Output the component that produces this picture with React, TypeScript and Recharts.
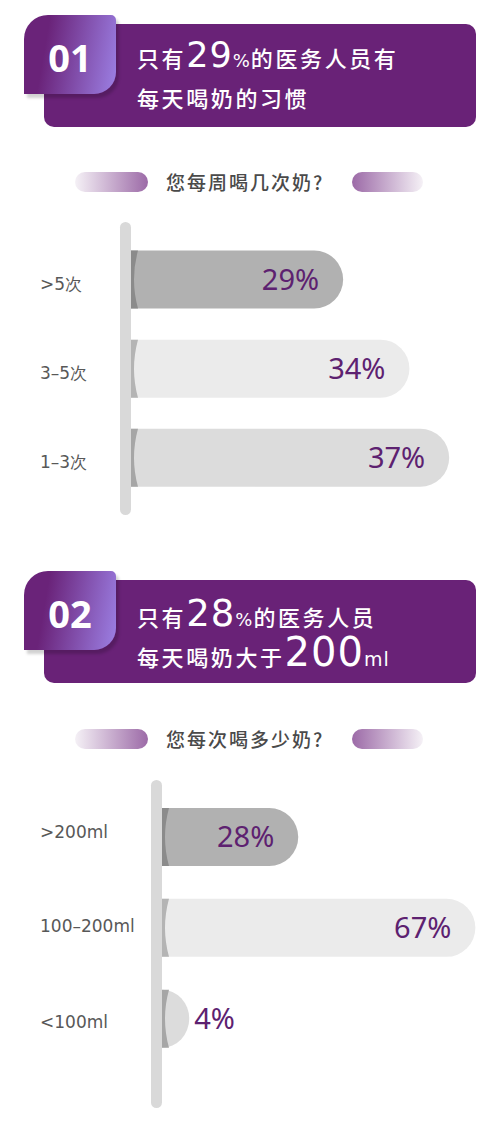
import React from 'react'
import { BarChart, Bar, XAxis, YAxis, LabelList } from 'recharts'

// section 1: how many times a week
const freqCategories = ['>5次', '3–5次', '1–3次']
const freqValues = [29, 34, 37]

// section 2: how much per time
const amountCategories = ['>200ml', '100–200ml', '<100ml']
const amountValues = [28, 67, 4]

const barFills = ['#b1b1b1', '#ebebeb', '#dcdcdc']
const edgeFills = ['#8b8b8b', '#b4b4b4', '#a6a6a6']

const PURPLE = '#692277'
const LABEL_PURPLE = '#5d2170'
const CJK = '"Noto Sans CJK SC", "Noto Sans", sans-serif'
const LATIN = '"Noto Sans", "Noto Sans CJK SC", sans-serif'
const WIDE = '"DejaVu Sans", "Noto Sans", sans-serif'

const freqData = freqCategories.map((name, i) => ({ name, value: freqValues[i] }))
const amountData = amountCategories.map((name, i) => ({ name, value: amountValues[i] }))

const makeShape = (plotLeft: number) => (props: any) => {
  const { x, y, width, height, index } = props
  const right = x + width
  const w = Math.max(right - plotLeft, 1)
  const ry = height / 2
  const rx = Math.min(ry, w)
  const body = `M${plotLeft},${y} H${right - rx} A${rx},${ry} 0 0 1 ${right - rx},${y + height} H${plotLeft} Z`
  const edge = `M${plotLeft},${y} H${plotLeft + 7} Q${plotLeft - 1},${y + ry} ${plotLeft + 7},${y + height} H${plotLeft} Z`
  return (
    <g>
      <path d={body} fill={barFills[index % 3]} />
      <path d={edge} fill={edgeFills[index % 3]} />
    </g>
  )
}

const makeValueLabel = (plotLeft: number) => (props: any) => {
  const { x, y, width, height, value } = props
  const right = Number(x) + Number(width)
  const cy = Number(y) + Number(height) / 2
  const inside = right - plotLeft > 60
  return (
    <text
      x={inside ? right - 24 : right + 5}
      y={cy}
      dy="0.36em"
      textAnchor={inside ? 'end' : 'start'}
      fill={LABEL_PURPLE}
      fontFamily={LATIN}
      fontSize={29}
    >
      {value}%
    </text>
  )
}

const makeTick = (shifts: number[]) => (props: any) => {
  const { y, payload, index } = props
  return (
    <text x={40} y={y + (shifts[index] || 0)} dy="0.35em" textAnchor='start' fill='#585858' fontFamily={WIDE} fontSize={17}>
      {payload.value}
    </text>
  )
}

const axisLineStyle = {
  stroke: '#d9d9d9',
  strokeWidth: 11,
  strokeLinecap: 'round',
  transform: 'translate(-5.5 0)'
}

const lineStyle: React.CSSProperties = {
  position: 'absolute', left: 137, height: 36, lineHeight: '36px', whiteSpace: 'nowrap',
  color: '#fff', fontFamily: CJK, fontSize: 22, fontWeight: 500, letterSpacing: 2.6
}

type HeaderProps = {
  top: number
  num: string
  line1: React.ReactNode
  line2: React.ReactNode
  offsets: [number, number]
}

const Header = ({ top, num, line1, line2, offsets }: HeaderProps) => (
  <>
    <div
      style={{
        position: 'absolute', left: 44, top, width: 432, height: 103,
        background: PURPLE, borderRadius: 10
      }}
    />
    <div
      style={{
        position: 'absolute', left: 24, top: top - 9, width: 92, height: 79,
        borderRadius: '24px 5px 22px 0',
        background: 'linear-gradient(100deg, #6a2379 25%, #9c80e4 100%)',
        boxShadow: '3px 4px 3px rgba(0,0,0,0.18)',
        color: '#fff', fontFamily: '"Open Sans", sans-serif', fontWeight: 700, fontSize: 38,
        display: 'flex', alignItems: 'center', justifyContent: 'center', paddingTop: 4, boxSizing: 'border-box'
      }}
    >
      {num}
    </div>
    <div style={{ ...lineStyle, top: top + offsets[0] }}>{line1}</div>
    <div style={{ ...lineStyle, top: top + offsets[1] }}>{line2}</div>
  </>
)

const Big = ({ children, size }: { children: React.ReactNode; size: number }) => (
  <span style={{ fontFamily: WIDE, fontSize: size, fontWeight: 400, lineHeight: 0, letterSpacing: 1 }}>{children}</span>
)
const Small = ({ children, size }: { children: React.ReactNode; size: number }) => (
  <span style={{ fontFamily: WIDE, fontSize: size, fontWeight: 400, lineHeight: 0, letterSpacing: 1 }}>{children}</span>
)

const Subtitle = ({ top, text }: { top: number; text: string }) => (
  <>
    <div style={{ position: 'absolute', left: 75, top, width: 73, height: 20, borderRadius: 10, background: 'linear-gradient(90deg, #f5f1f6, #9c6aa7)' }} />
    <div style={{ position: 'absolute', left: 352, top, width: 71, height: 20, borderRadius: 10, background: 'linear-gradient(90deg, #9c6aa7, #f5f1f6)' }} />
    <div style={{ position: 'absolute', left: 166, top: top - 6, height: 32, lineHeight: '32px', whiteSpace: 'nowrap', color: '#4a4a4a', fontFamily: CJK, fontSize: 19, fontWeight: 500, letterSpacing: 2 }}>
      {text}
    </div>
  </>
)

const PLOT_LEFT_1 = 131
const PLOT_LEFT_2 = 162

export default function App() {
  return (
    <div style={{ position: 'absolute', left: 0, top: 0, width: 500, height: 1131, background: '#fff', overflow: 'hidden' }}>
      <Header
        top={24}
        num='01'
        offsets={[15, 55]}
        line1={<>只有<Big size={35}>29</Big><Small size={18}>%</Small>的医务人员有</>}
        line2={<>每天喝奶的习惯</>}
      />
      <Subtitle top={172} text='您每周喝几次奶?' />

      <div style={{ position: 'absolute', left: 0, top: 200, width: 500, height: 320 }}>
        <BarChart
          width={500}
          height={320}
          data={freqData}
          layout='vertical'
          margin={{ top: 27.5, right: 11, bottom: 10.5, left: 0 }}
        >
          <XAxis type='number' domain={[13, 40]} hide />
          <YAxis
            type='category'
            dataKey='name'
            width={PLOT_LEFT_1}
            padding={{ top: 7, bottom: 7.5 }}
            axisLine={axisLineStyle as any}
            tickLine={false}
            tick={makeTick([5, 5, 5])}
          />
          <Bar dataKey='value' barSize={58} isAnimationActive={false} shape={makeShape(PLOT_LEFT_1)}>
            <LabelList dataKey='value' content={makeValueLabel(PLOT_LEFT_1)} />
          </Bar>
        </BarChart>
      </div>

      <Header
        top={580}
        num='02'
        offsets={[18, 58]}
        line1={<>只有<Big size={37}>28</Big><Small size={18}>%</Small>的医务人员</>}
        line2={<>每天喝奶大于<Big size={40}>200</Big><Small size={19}>ml</Small></>}
      />
      <Subtitle top={729} text='您每次喝多少奶?' />

      <div style={{ position: 'absolute', left: 0, top: 760, width: 500, height: 353 }}>
        <BarChart
          width={500}
          height={353}
          data={amountData}
          layout='vertical'
          margin={{ top: 25.5, right: 11, bottom: 10.5, left: 0 }}
        >
          <XAxis type='number' domain={[-2, 70]} hide />
          <YAxis
            type='category'
            dataKey='name'
            width={PLOT_LEFT_2}
            padding={{ top: 6.5, bottom: 38 }}
            axisLine={axisLineStyle as any}
            tickLine={false}
            tick={makeTick([-5, -2, 3])}
          />
          <Bar dataKey='value' barSize={58} isAnimationActive={false} shape={makeShape(PLOT_LEFT_2)}>
            <LabelList dataKey='value' content={makeValueLabel(PLOT_LEFT_2)} />
          </Bar>
        </BarChart>
      </div>
    </div>
  )
}
